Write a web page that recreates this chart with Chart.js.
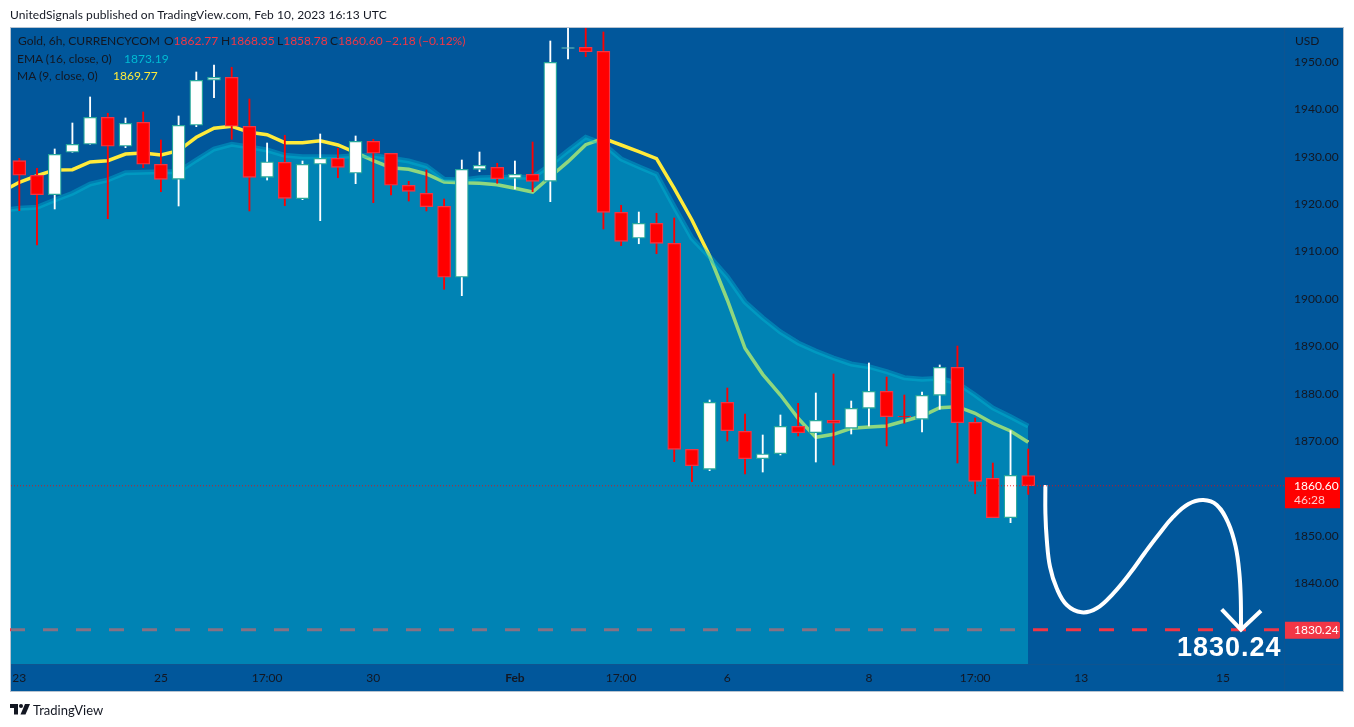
<!DOCTYPE html>
<html>
<head>
<meta charset="utf-8">
<title>Gold 6h</title>
<script src="https://cdn.jsdelivr.net/npm/chart.js@4/dist/chart.umd.js"></script>
<style>
  html, body { margin: 0; padding: 0; background: #fff; }
  #wrap { position: relative; width: 1354px; height: 727px; overflow: hidden; font-family: Lato, "Liberation Sans", sans-serif; font-size: 12px; color: #131722; }
  #wrap canvas { position: absolute; left: 0; top: 0; }
  .txt { position: absolute; white-space: nowrap; line-height: 14px; }
  .red { color: #f23645; }
</style>
</head>
<body>
<div id="wrap">
  <canvas id="goldChart" width="1354" height="727"></canvas>
  <div class="txt" style="left:10px;top:8px;letter-spacing:0.09px">UnitedSignals published on TradingView.com, Feb 10, 2023 16:13 UTC</div>
  <div class="txt" style="left:18px;top:34px">Gold, 6h, CURRENCYCOM</div>
  <div class="txt" style="left:164px;top:34px">O<span class="red">1862.77</span></div>
  <div class="txt" style="left:221px;top:34px">H<span class="red">1868.35</span></div>
  <div class="txt" style="left:277px;top:34px">L<span class="red">1858.78</span></div>
  <div class="txt" style="left:330px;top:34px">C<span class="red">1860.60</span></div>
  <div class="txt red" style="left:385px;top:34px">−2.18 (−0.12%)</div>
  <div class="txt" style="left:17px;top:52px">EMA (16, close, 0)</div>
  <div class="txt" style="left:124px;top:52px;color:#00bcd4">1873.19</div>
  <div class="txt" style="left:17px;top:69px">MA (9, close, 0)</div>
  <div class="txt" style="left:113px;top:69px;color:#ffeb3b">1869.77</div>
  <div class="txt" style="left:1295px;top:34px">USD</div>
  <div class="txt" style="left:1177px;top:632px;font-family:'Liberation Sans',sans-serif;font-size:27px;line-height:31px;font-weight:bold;letter-spacing:1px;color:#fff">1830.24</div>
  <svg style="position:absolute;left:10px;top:704px" width="20" height="11" viewBox="0 0 20 11">
    <path fill="#131722" d="M0 0h8v10.5H4V4H0z"/><circle cx="11" cy="2" r="2" fill="#131722"/><path fill="#131722" d="M15 0h5l-4.5 10.5h-5z"/>
  </svg>
  <div class="txt" style="left:33px;top:703px;font-size:13px">TradingView</div>
</div>
<script>
// values, one entry per 6h bar
const opens = [1929.18,1926.10,1922.00,1930.95,1932.64,1938.33,1932.22,1937.28,1928.42,1925.25,
  1936.65,1946.14,1946.77,1936.44,1925.67,1928.84,1921.16,1928.42,1929.68,1926.52,
  1933.27,1930.74,1923.99,1922.30,1919.56,1904.58,1927.36,1927.78,1925.46,1926.31,
  1924.83,1952.85,1953.10,1952.26,1918.29,1912.81,1915.97,1911.75,1868.29,1864.07,
  1878.21,1872.09,1866.31,1867.36,1873.14,1871.79,1874.41,1872.72,1876.94,1880.53,
  1875.25,1874.62,1879.68,1885.59,1873.99,1862.17,1853.86,1862.77];
const closes = [1926.10,1922.00,1930.53,1932.64,1938.33,1932.22,1937.07,1928.42,1925.25,1936.65,
  1946.14,1946.77,1936.44,1925.67,1928.96,1921.24,1928.42,1929.68,1927.78,1933.27,
  1930.74,1923.99,1922.72,1919.47,1904.58,1927.36,1928.21,1925.38,1926.31,1924.83,
  1949.94,1953.06,1952.17,1918.29,1912.17,1915.97,1911.75,1868.29,1864.83,1878.21,
  1872.22,1866.31,1867.36,1873.14,1871.79,1874.41,1873.78,1876.94,1880.53,1875.17,
  1875.10,1879.68,1885.59,1873.90,1861.54,1853.86,1862.81,1860.60];
const highs = [1929.68,1927.57,1931.65,1937.13,1942.62,1939.18,1938.19,1939.45,1933.54,1938.61,
  1947.89,1949.37,1948.88,1942.19,1932.91,1934.54,1929.11,1934.81,1931.79,1934.39,
  1933.69,1930.74,1924.83,1927.22,1921.10,1929.32,1931.01,1928.63,1929.11,1933.12,
  1954.43,1958.86,1958.02,1956.33,1919.77,1918.35,1918.08,1917.09,1868.29,1878.69,
  1881.22,1875.74,1871.31,1875.53,1877.99,1880.17,1884.18,1878.48,1886.50,1883.54,
  1879.75,1880.38,1886.08,1890.08,1874.90,1865.40,1872.22,1868.35];
const lows = [1918.63,1911.39,1918.99,1930.95,1932.64,1916.94,1931.92,1927.70,1922.64,1919.62,
  1936.35,1942.47,1933.69,1918.57,1925.10,1919.68,1920.95,1916.52,1925.59,1924.33,
  1920.32,1921.94,1920.67,1918.57,1902.05,1900.70,1926.86,1924.41,1923.21,1922.64,
  1920.53,1950.63,1951.12,1914.77,1911.25,1911.66,1909.56,1865.68,1861.46,1863.78,
  1870.04,1863.08,1863.50,1867.09,1871.10,1865.61,1864.98,1871.52,1873.21,1868.99,
  1873.78,1871.94,1876.73,1865.40,1858.92,1853.86,1852.81,1858.78];

// the first entry of both averages belongs to the bar just left of the visible range
const maValues = [1922.57,1924.62,1926.01,1927.22,1927.28,1928.90,1929.18,1930.59,1930.80,1930.38,1931.29,
  1934.11,1936.01,1936.44,1935.17,1934.66,1932.97,1932.97,1933.40,1932.49,1930.86,
  1929.18,1927.70,1927.36,1926.37,1924.68,1924.54,1924.41,1924.12,1923.35,1922.57,
  1925.80,1928.97,1932.55,1933.90,1932.49,1931.08,1929.60,1923.35,1916.67,1909.07,
  1899.79,1889.60,1884.11,1879.75,1874.83,1870.82,1871.45,1872.72,1872.99,1873.21,
  1874.26,1875.32,1877.07,1877.28,1875.89,1873.78,1872.15,1869.77];
const emaValues = [1918.67,1919.13,1919.35,1920.89,1922.30,1924.26,1925.11,1926.65,1926.73,1926.86,1926.86,
  1929.32,1931.65,1932.64,1932.07,1931.43,1930.32,1930.02,1930.02,1929.96,1930.27,
  1930.27,1929.68,1929.11,1928.06,1925.25,1925.11,1925.59,1925.68,1925.68,1925.68,
  1928.27,1931.29,1934.11,1932.70,1929.54,1927.91,1926.31,1919.47,1912.81,1908.92,
  1904.70,1899.37,1896.00,1893.04,1890.72,1889.03,1887.55,1886.29,1885.72,1884.66,
  1883.40,1883.06,1883.27,1882.28,1879.75,1877.01,1875.17,1873.19];

// hand drawn forecast, in bar numbers and prices
const brushBars = [57.97,57.97,58.05,58.23,58.61,59.18,60.02,60.87,61.81,62.75,63.60,64.35,65.20,66.05,66.89,67.65,68.31,68.72,68.93,69.01,69.02];
const brushPrices = [1860.76,1854.79,1849.16,1843.52,1838.97,1835.44,1833.90,1834.75,1837.91,1842.13,1846.52,1850.21,1854.07,1856.75,1857.59,1856.54,1852.68,1847.74,1842.13,1836.50,1830.24];
const arrowBars = [67.93,69.02,70.15];
const arrowPrices = [1834.54,1830.24,1834.24];

const tickBars = [0,8,14,20,28,34,40,48,54,60,68];
const tickLabels = ['23','25','17:00','30','Feb','17:00','6','8','17:00','13','15'];

const lastPrice = 1860.60;
const countdown = '46:28';
const targetPrice = 1830.24;

const FONT = 'Lato, "Liberation Sans", sans-serif';
const PLOT_BG = '#01579b';
const BAND = 'rgba(0,188,212,0.44)';

const isUp = i => closes[i] >= opens[i];
const points = (xs, ys) => ys.map((y, i) => ({ x: xs[i], y: y }));
const barNumbers = opens.map((_, i) => i);

// page background, panel frame and the dashed target line under the area
const backdrop = {
  id: 'backdrop',
  beforeDraw(chart) {
    const c = chart.ctx, a = chart.chartArea;
    c.save();
    c.fillStyle = '#fff';
    c.fillRect(0, 0, chart.width, chart.height);
    c.fillStyle = '#b7c3d0';
    c.fillRect(10, 27, a.right + 60 - 10, 665);
    c.fillStyle = PLOT_BG;
    c.fillRect(a.left, a.top, a.right + 59 - a.left, 663);
    c.restore();
  },
  beforeDatasetsDraw(chart) {
    const c = chart.ctx, a = chart.chartArea;
    const y = chart.scales.y.getPixelForValue(targetPrice);
    c.save();
    c.strokeStyle = '#f23645';
    c.lineWidth = 3;
    c.setLineDash([15, 18]);
    c.beginPath();
    c.moveTo(a.left - 1, y);
    c.lineTo(a.right, y);
    c.stroke();
    c.restore();
  },
  afterDatasetsDraw(chart) {
    const c = chart.ctx, a = chart.chartArea;
    const y = chart.scales.y.getPixelForValue(lastPrice);
    c.save();
    c.strokeStyle = 'rgba(255,0,0,0.8)';
    c.lineWidth = 1;
    c.setLineDash([1, 2]);
    c.beginPath();
    c.moveTo(a.left, y);
    c.lineTo(a.right, y);
    c.stroke();
    c.setLineDash([]);
    c.strokeStyle = '#0f5490';
    c.beginPath();
    c.moveTo(a.right + 0.5, a.top);
    c.lineTo(a.right + 0.5, a.bottom + 27);
    c.moveTo(a.left, a.bottom + 0.5);
    c.lineTo(a.right + 59, a.bottom + 0.5);
    c.stroke();
    c.restore();
  },
  // price tags sit on top of the axis labels
  afterDraw(chart) {
    const c = chart.ctx, a = chart.chartArea, ys = chart.scales.y;
    const lastY = ys.getPixelForValue(lastPrice);
    const targetY = ys.getPixelForValue(targetPrice);
    c.save();
    c.font = '12px ' + FONT;
    c.textBaseline = 'middle';
    c.fillStyle = '#ff0000';
    c.fillRect(a.right + 1, lastY - 8.5, 55, 31);
    c.fillStyle = '#fff';
    c.fillText(lastPrice.toFixed(2), a.right + 10, lastY);
    c.fillStyle = '#ffcccc';
    c.fillText(countdown, a.right + 10, lastY + 14);
    c.fillStyle = '#f23645';
    c.beginPath();
    c.roundRect(a.right + 1, targetY - 8, 55, 17, [0, 2, 2, 0]);
    c.fill();
    c.fillStyle = '#fff';
    c.fillText(targetPrice.toFixed(2), a.right + 10, targetY + 0.5);
    c.restore();
  }
};

new Chart(document.getElementById('goldChart'), {
  type: 'bar',
  plugins: [backdrop],
  data: {
    datasets: [
      {
        type: 'line',
        order: 6,
        data: points(maValues.map((_, i) => i - 1), maValues),
        borderColor: '#ffeb3b',
        borderWidth: 3.5,
        pointRadius: 0,
        tension: 0
      },
      {
        type: 'line',
        order: 5,
        data: points(emaValues.map((_, i) => i - 1), emaValues),
        borderColor: 'rgba(0,188,212,0.4)',
        backgroundColor: BAND,
        borderWidth: 5,
        pointRadius: 0,
        tension: 0,
        fill: 'start'
      },
      {
        // wicks
        order: 4,
        grouped: false,
        barThickness: 1.2,
        borderWidth: 0,
        data: barNumbers.map(i => ({ x: i, y: [lows[i], highs[i]] })),
        backgroundColor: barNumbers.map(i => isUp(i) ? '#ffffff' : '#ff0000')
      },
      {
        // bodies
        order: 3,
        grouped: false,
        barThickness: 13,
        borderWidth: 1.3,
        borderSkipped: false,
        data: barNumbers.map(i => ({ x: i, y: [opens[i], closes[i]] })),
        backgroundColor: barNumbers.map(i => isUp(i) ? '#ffffff' : '#ff0000'),
        borderColor: barNumbers.map(i => isUp(i) ? '#26a69a' : '#f23645')
      },
      {
        type: 'line',
        order: 2,
        data: points(brushBars, brushPrices),
        borderColor: '#ffffff',
        borderWidth: 4,
        pointRadius: 0,
        tension: 0.4
      },
      {
        type: 'line',
        order: 1,
        data: points(arrowBars, arrowPrices),
        borderColor: '#ffffff',
        borderWidth: 4,
        pointRadius: 0,
        tension: 0
      }
    ]
  },
  options: {
    responsive: false,
    animation: false,
    layout: { padding: { left: 11, right: 11, top: 28, bottom: 36 } },
    plugins: { legend: { display: false }, tooltip: { enabled: false } },
    scales: {
      x: {
        type: 'linear',
        min: -0.469,
        max: 71.45,
        offset: false,
        grid: { display: false, drawTicks: false },
        border: { display: false },
        afterBuildTicks: scale => { scale.ticks = tickBars.map(v => ({ value: v })); },
        afterFit: scale => { scale.height = 27; },
        ticks: {
          autoSkip: false,
          maxRotation: 0,
          padding: 7,
          color: '#131722',
          font: ctx => ({ family: FONT, size: 12, weight: ctx.tick && ctx.tick.label === 'Feb' ? 'bold' : 'normal' }),
          callback: v => tickLabels[tickBars.indexOf(v)]
        }
      },
      y: {
        position: 'right',
        min: 1823.0,
        max: 1957.17,
        grid: { display: false, drawTicks: false },
        border: { display: false },
        afterFit: scale => { scale.width = 59; },
        ticks: {
          stepSize: 10,
          includeBounds: false,
          padding: 10,
          color: '#131722',
          font: { family: FONT, size: 12 },
          callback: v => v.toFixed(2)
        }
      }
    }
  }
});
</script>
</body>
</html>
